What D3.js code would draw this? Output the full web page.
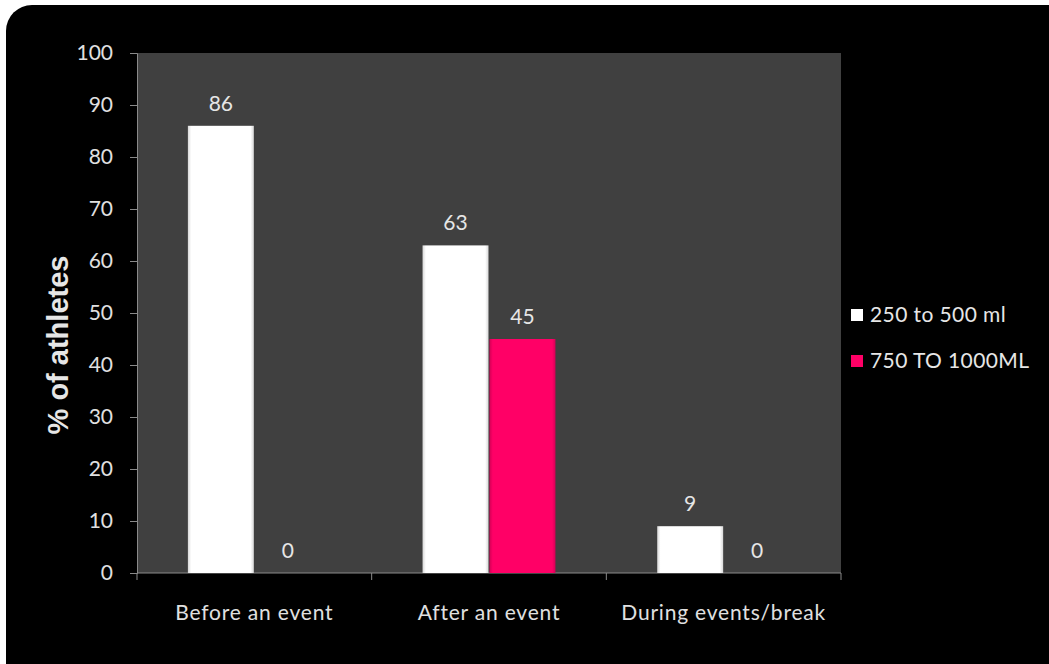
<!DOCTYPE html>
<html><head><meta charset="utf-8">
<script src="https://cdn.jsdelivr.net/npm/d3@7"></script>
<style>body{margin:0;background:#fff;}svg{display:block;}</style>
</head><body>
<svg id="c" width="1049" height="664"></svg>
<script>
const categories = ["Before an event", "After an event", "During events/break"];
const seriesNames = ["250 to 500 ml", "750 TO 1000ML"];
const series1 = [86, 63, 9];
const series2 = [0, 45, 0];
const yTicks = [0,10,20,30,40,50,60,70,80,90,100];
const colors = ["#ffffff", "#ff0066"];

const svg = d3.select("#c");
const defs = svg.append("defs");
function grad(id, c1, c2){
  const g = defs.append("linearGradient").attr("id", id).attr("x1",0).attr("x2",1).attr("y1",0).attr("y2",0);
  g.append("stop").attr("offset","0%").attr("stop-color",c2);
  g.append("stop").attr("offset","5%").attr("stop-color",c1);
  g.append("stop").attr("offset","95%").attr("stop-color",c1);
  g.append("stop").attr("offset","100%").attr("stop-color",c2);
}
grad("gw", "#ffffff", "#d8d8d8");
grad("gp", "#ff0066", "#d40055");

svg.append("rect").attr("x",6).attr("y",5).attr("width",1070).attr("height",690).attr("rx",26).attr("fill","#000");

const m = {l:137, r:841, t:53, b:573};
const x0 = d3.scaleBand().domain(categories).range([m.l, m.r]).paddingInner(0).paddingOuter(0);
const x1 = d3.scaleBand().domain([0,1]).range([0, x0.bandwidth()]).paddingInner(0.015).paddingOuter(0.76);
const y = d3.scaleLinear().domain([0,100]).range([m.b, m.t]);

svg.append("rect").attr("x",m.l).attr("y",m.t).attr("width",m.r-m.l).attr("height",m.b-m.t).attr("fill","#404040");

const font = "Lato, 'Open Sans', sans-serif";
const fs = "21px";
const ya = svg.append("g").attr("transform",`translate(${m.l},0)`)
  .call(d3.axisLeft(y).tickValues(yTicks).tickSize(7).tickPadding(17));
ya.select(".domain").attr("stroke","#8a8a8a");
ya.selectAll(".tick line").attr("stroke","#8a8a8a");
ya.selectAll("text").attr("fill","#e0e0e0").style("font-family",font).style("font-size",fs);

const xa = svg.append("g").attr("transform",`translate(0,${m.b})`)
  .call(d3.axisBottom(x0).tickSize(0).tickPadding(32));
xa.select(".domain").attr("stroke","#8a8a8a").attr("d",`M${m.l},0H${m.r}`);
xa.selectAll("text").attr("fill","#e0e0e0").style("font-family",font).style("font-size",fs).style("letter-spacing","0.8px");
const bounds = [m.l].concat(categories.map(c => x0(c)+x0.bandwidth()));
xa.selectAll(".bt").data(bounds).enter().append("line").attr("class","bt")
  .attr("x1",d=>d).attr("x2",d=>d).attr("y1",0).attr("y2",7).attr("stroke","#8a8a8a");

const data = categories.map((c,i)=>({c, v:[series1[i], series2[i]]}));
const g = svg.append("g");
data.forEach(d=>{
  d.v.forEach((v,j)=>{
    const bx = x0(d.c)+x1(j);
    if (v>0) {
      g.append("rect").attr("x",bx).attr("y",y(v)).attr("width",x1.bandwidth()).attr("height",y(0)-y(v))
        .attr("fill", j===0 ? "url(#gw)" : "url(#gp)");
    }
    g.append("text").attr("x",bx+x1.bandwidth()/2).attr("y",y(v)-15)
      .attr("text-anchor","middle").attr("fill","#e6e6e6").style("font-family",font).style("font-size",fs)
      .text(v);
  });
});

svg.append("text").attr("transform","translate(68,345) rotate(-90)").attr("text-anchor","middle")
  .attr("fill","#e6e6e6").style("font-family","'Liberation Sans', Arial, sans-serif").style("font-weight","bold").style("font-size","29px")
  .text("% of athletes");

const lg = svg.append("g");
seriesNames.forEach((n,i)=>{
  const yy = 315 + i*46;
  lg.append("rect").attr("x",851).attr("y",yy-6).attr("width",12).attr("height",12).attr("fill",colors[i]);
  lg.append("text").attr("x",870).attr("y",yy).attr("dy","0.35em").attr("fill","#e6e6e6")
    .style("font-family",font).style("font-size",fs).style("letter-spacing","0.4px").text(n);
});
</script>
</body></html>
